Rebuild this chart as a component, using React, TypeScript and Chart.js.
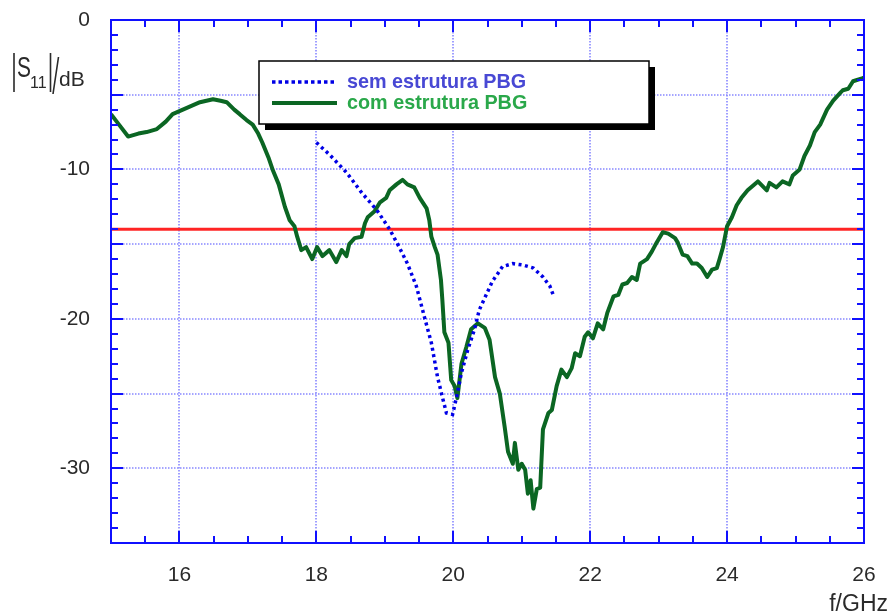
import React, { useEffect, useRef } from 'react';
import { Chart, registerables } from 'chart.js';

Chart.register(...registerables);

// ---- data ----
const freqWithPBG = [
  15.0, 15.1, 15.25, 15.4, 15.52, 15.67, 15.8, 15.9, 16.0, 16.15, 16.3, 16.49, 16.6, 16.69, 16.8, 16.88,
  16.98, 17.07, 17.15, 17.21, 17.3, 17.36, 17.45, 17.54, 17.61, 17.68, 17.72, 17.78, 17.85, 17.94, 18.01,
  18.09, 18.19, 18.29, 18.37, 18.44, 18.48, 18.56, 18.66, 18.71, 18.75, 18.85, 18.93, 19.02, 19.07, 19.17,
  19.26, 19.33, 19.43, 19.51, 19.61, 19.65, 19.68, 19.73, 19.77, 19.82, 19.84, 19.87, 19.93, 19.97, 20.02,
  20.06, 20.12, 20.19, 20.26, 20.36, 20.46, 20.53, 20.61, 20.68, 20.75, 20.8, 20.87, 20.9, 20.95, 21.0,
  21.05, 21.09, 21.13, 21.17, 21.22, 21.27, 21.31, 21.39, 21.44, 21.51, 21.58, 21.66, 21.73, 21.78, 21.85,
  21.92, 21.97, 22.04, 22.11, 22.19, 22.25, 22.34, 22.41, 22.47, 22.54, 22.61, 22.68, 22.73, 22.83, 22.9,
  22.97, 23.06, 23.14, 23.24, 23.28, 23.35, 23.42, 23.49, 23.56, 23.63, 23.71, 23.78, 23.85, 23.89, 23.94,
  24.0, 24.07, 24.14, 24.21, 24.3, 24.45, 24.58, 24.62, 24.72, 24.81, 24.91, 24.96, 25.06, 25.13, 25.21,
  25.28, 25.36, 25.46, 25.55, 25.65, 25.69, 25.77, 25.84, 25.97, 26.0,
];
const s11WithPBG = [
  -6.3, -6.9, -7.8, -7.6, -7.5, -7.3, -6.8, -6.3, -6.1, -5.8, -5.5, -5.3, -5.4, -5.5, -6.0, -6.3,
  -6.7, -7.0, -7.6, -8.2, -9.2, -10.0, -11.0, -12.5, -13.4, -13.8, -14.5, -15.4, -15.2, -16.0, -15.2,
  -15.8, -15.4, -16.2, -15.4, -15.8, -15.0, -14.6, -14.5, -13.6, -13.2, -12.8, -12.2, -11.9, -11.4, -11.0,
  -10.7, -11.0, -11.2, -11.9, -12.6, -13.4, -14.5, -15.2, -15.7, -17.4, -18.7, -20.9, -21.6, -24.1, -24.5,
  -25.3, -23.0, -21.9, -20.7, -20.3, -20.6, -21.4, -23.9, -25.0, -27.2, -28.9, -29.7, -28.3, -30.1, -29.7,
  -30.1, -31.7, -30.8, -32.7, -31.4, -31.3, -27.4, -26.3, -26.1, -24.5, -23.4, -23.9, -23.3, -22.3, -22.5,
  -21.2, -20.9, -21.3, -20.3, -20.7, -19.6, -18.5, -18.4, -17.7, -17.6, -17.2, -17.4, -16.3, -16.0, -15.5,
  -14.9, -14.2, -14.3, -14.6, -14.9, -15.7, -15.8, -16.3, -16.3, -16.6, -17.2, -16.7, -16.6, -16.0, -15.2,
  -13.8, -13.2, -12.4, -11.9, -11.4, -10.8, -11.4, -10.9, -11.2, -10.8, -11.0, -10.4, -10.0, -9.1, -8.4,
  -7.5, -7.0, -6.0, -5.4, -4.9, -4.7, -4.6, -4.1, -3.9, -3.85,
];
const freqWithoutPBG = [
  18.0, 18.19, 18.44, 18.67, 18.88, 19.07, 19.21, 19.33, 19.46, 19.58, 19.68, 19.77, 19.85, 19.9, 19.99,
  20.05, 20.12, 20.21, 20.31, 20.38, 20.49, 20.57, 20.72, 20.87, 21.02, 21.17, 21.31, 21.41, 21.46,
];
const s11WithoutPBG = [
  -8.2, -9.0, -10.2, -11.6, -12.7, -14.0, -15.2, -16.3, -17.8, -19.9, -21.6, -23.9, -25.4, -26.3, -26.4,
  -25.2, -23.6, -22.1, -20.7, -19.4, -18.3, -17.5, -16.5, -16.3, -16.4, -16.6, -17.2, -17.8, -18.4,
];
const thresholdFreq = [15, 26];
const thresholdS11 = [-14, -14];
const xLabelValues = [16, 18, 20, 22, 24, 26];
const yLabelValues = [0, -10, -20, -30];
const xGridValues = [16, 18, 20, 22, 24];
const yGridValues = [-5, -10, -15, -20, -25, -30];
const seriesNames = ['sem estrutura PBG', 'com estrutura PBG'];
const xAxisTitle = 'f/GHz';

const FONT = '"Liberation Sans", Arial, Helvetica, sans-serif';
const AXIS_BLUE = '#1010ff';
const GRID_BLUE = '#8888ff';
const GREEN = '#0b6623';
const BLUE_LINE = '#0000e6';
const RED = '#ff2424';

const toPts = (xs: number[], ys: number[]) => xs.map((x, i) => ({ x, y: ys[i] }));

const decorPlugin = {
  id: 'decor',
  beforeDatasetsDraw(chart: any) {
    const { ctx, chartArea: a, scales } = chart;
    const x = scales.x, y = scales.y;
    ctx.save();
    ctx.strokeStyle = GRID_BLUE;
    ctx.lineWidth = 1.6;
    ctx.setLineDash([1.5, 1.5]);
    for (const v of xGridValues) {
      const px = Math.round(x.getPixelForValue(v));
      ctx.beginPath(); ctx.moveTo(px, a.top); ctx.lineTo(px, a.bottom); ctx.stroke();
    }
    for (const v of yGridValues) {
      const py = Math.round(y.getPixelForValue(v));
      ctx.beginPath(); ctx.moveTo(a.left, py); ctx.lineTo(a.right, py); ctx.stroke();
    }
    ctx.restore();
  },
  afterDatasetsDraw(chart: any) {
    const { ctx, chartArea: a, scales } = chart;
    const x = scales.x, y = scales.y;
    ctx.save();
    // ticks (inside, all four sides)
    ctx.strokeStyle = AXIS_BLUE;
    ctx.lineWidth = 2;
    for (let v = 15.5; v < 26; v += 0.5) {
      const major = xGridValues.includes(v);
      const len = major ? 12 : 7;
      const px = Math.round(x.getPixelForValue(v));
      ctx.beginPath();
      ctx.moveTo(px, a.bottom); ctx.lineTo(px, a.bottom - len);
      ctx.moveTo(px, a.top); ctx.lineTo(px, a.top + len);
      ctx.stroke();
    }
    for (let v = -34; v < 0; v += 1) {
      const major = yGridValues.includes(v);
      const len = major ? 12 : 7;
      const py = Math.round(y.getPixelForValue(v));
      ctx.beginPath();
      ctx.moveTo(a.left, py); ctx.lineTo(a.left + len, py);
      ctx.moveTo(a.right, py); ctx.lineTo(a.right - len, py);
      ctx.stroke();
    }
    // frame
    ctx.strokeRect(a.left, a.top, a.right - a.left, a.bottom - a.top);

    // legend
    const lx = 259, ly = 61, lw = 390, lh = 63;
    ctx.fillStyle = '#000';
    ctx.fillRect(lx + 6, ly + 6, lw, lh);
    ctx.fillStyle = '#fff';
    ctx.fillRect(lx, ly, lw, lh);
    ctx.strokeStyle = '#000';
    ctx.lineWidth = 1.5;
    ctx.strokeRect(lx, ly, lw, lh);
    const rows = [
      { name: seriesNames[0], line: BLUE_LINE, text: '#4848d4', dash: [3.5, 3], w: 3.5, yy: ly + 21 },
      { name: seriesNames[1], line: GREEN, text: '#2aa84a', dash: [], w: 4, yy: ly + 42 },
    ];
    for (const r of rows) {
      ctx.strokeStyle = r.line;
      ctx.lineWidth = r.w;
      ctx.setLineDash(r.dash);
      ctx.beginPath(); ctx.moveTo(lx + 13, r.yy); ctx.lineTo(lx + 78, r.yy); ctx.stroke();
      ctx.setLineDash([]);
      ctx.fillStyle = r.text;
      ctx.font = `bold 19.8px ${FONT}`;
      ctx.textBaseline = 'middle';
      ctx.textAlign = 'left';
      ctx.fillText(r.name, lx + 88, r.yy + 1);
    }

    // axis titles
    ctx.fillStyle = '#2a2a2a';
    ctx.textBaseline = 'alphabetic';
    ctx.textAlign = 'right';
    ctx.font = `23px ${FONT}`;
    ctx.fillText(xAxisTitle, 888, 611);

    ctx.textAlign = 'left';
    ctx.strokeStyle = '#2a2a2a';
    ctx.lineWidth = 1.6;
    ctx.beginPath();
    ctx.moveTo(14, 53); ctx.lineTo(14, 92);
    ctx.moveTo(50.5, 53); ctx.lineTo(50.5, 92);
    ctx.moveTo(53, 94); ctx.lineTo(58.5, 57);
    ctx.stroke();
    ctx.save();
    ctx.translate(17, 77);
    ctx.scale(0.95, 1.3);
    ctx.font = `22px ${FONT}`;
    ctx.fillText('S', 0, 0);
    ctx.restore();
    ctx.font = `16px ${FONT}`;
    ctx.fillText('11', 30, 88);
    ctx.font = `21px ${FONT}`;
    ctx.fillText('dB', 59, 86);
    ctx.restore();
  },
};

export default function App() {
  const ref = useRef<HTMLCanvasElement>(null);
  useEffect(() => {
    const canvas = ref.current;
    if (!canvas) return;
    const chart = new Chart(canvas, {
      type: 'line',
      data: {
        datasets: [
          {
            label: seriesNames[0],
            data: toPts(freqWithoutPBG, s11WithoutPBG),
            borderColor: BLUE_LINE,
            borderWidth: 3.5,
            borderDash: [3, 3.5],
            pointRadius: 0,
            order: 0,
          },
          {
            label: seriesNames[1],
            data: toPts(freqWithPBG, s11WithPBG),
            borderColor: GREEN,
            borderWidth: 4,
            borderJoinStyle: 'round',
            pointRadius: 0,
            order: 1,
          },
          {
            label: 'limiar',
            data: toPts(thresholdFreq, thresholdS11),
            borderColor: RED,
            borderWidth: 3,
            pointRadius: 0,
            order: 2,
          },
        ] as any,
      },
      options: {
        responsive: false,
        animation: false,
        layout: { padding: { left: 0, top: 20, right: 27, bottom: 0 } },
        plugins: { legend: { display: false }, tooltip: { enabled: false } },
        scales: {
          x: {
            type: 'linear',
            min: 15,
            max: 26,
            grid: { display: false, drawTicks: false },
            border: { display: false },
            afterFit: (s: any) => {
              s.height = 71;
              s.paddingLeft = 0;
              s.paddingRight = 0;
            },
            ticks: {
              stepSize: 1,
              autoSkip: false,
              maxRotation: 0,
              padding: 20,
              color: '#2a2a2a',
              font: { family: FONT, size: 21 },
              callback: (v: any) => (xLabelValues.includes(Number(v)) ? String(v) : ''),
            },
          },
          y: {
            type: 'linear',
            min: -35,
            max: 0,
            grid: { display: false, drawTicks: false },
            border: { display: false },
            afterFit: (s: any) => {
              s.width = 111;
              s.paddingTop = 0;
              s.paddingBottom = 0;
            },
            ticks: {
              stepSize: 5,
              autoSkip: false,
              padding: 21,
              color: '#2a2a2a',
              font: { family: FONT, size: 21 },
              callback: (v: any) => (yLabelValues.includes(Number(v)) ? String(v) : ''),
            },
          },
        },
      } as any,
      plugins: [decorPlugin],
    });
    return () => chart.destroy();
  }, []);
  return (
    <div style={{ position: 'fixed', left: 0, top: 0, width: 891, height: 614, background: '#fff' }}>
      <canvas ref={ref} width={891} height={614} style={{ display: 'block', width: 891, height: 614 }} />
    </div>
  );
}
